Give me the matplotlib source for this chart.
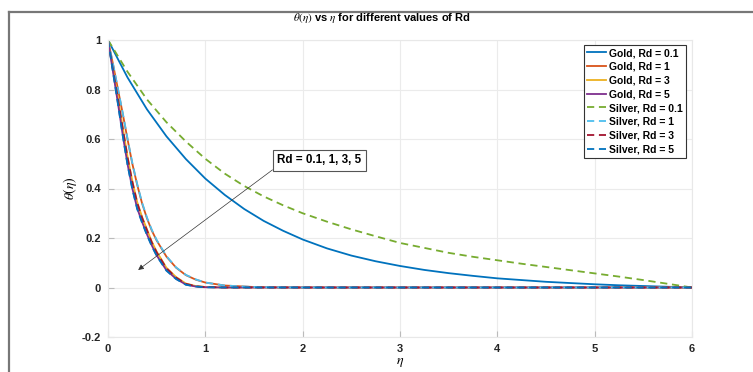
import matplotlib
matplotlib.use("Agg")
import matplotlib.pyplot as plt
from matplotlib.lines import Line2D

plt.rcParams['font.family'] = ['Liberation Sans', 'DejaVu Sans']
plt.rcParams['mathtext.fontset'] = 'stix'

# eta grids (read points) and theta values
eta_slow = [0, 0.2, 0.4, 0.6, 0.8, 1.0, 1.2, 1.4, 1.6, 1.8, 2.0, 2.25, 2.5, 2.75,
            3.0, 3.25, 3.5, 3.75, 4.0, 4.25, 4.5, 4.75, 5.0, 5.25, 5.5, 5.75, 6.0]
eta_fast = [0, 0.05, 0.1, 0.15, 0.2, 0.25, 0.3, 0.35, 0.4, 0.45, 0.5, 0.6, 0.7,
            0.8, 0.9, 1.0, 1.2, 1.5, 2.0, 6.0]

gold_01 = [1, 0.849, 0.72, 0.611, 0.519, 0.44, 0.374, 0.317, 0.269, 0.229, 0.194,
           0.158, 0.129, 0.106, 0.087, 0.071, 0.058, 0.047, 0.037, 0.030, 0.023,
           0.018, 0.013, 0.009, 0.006, 0.003, 0]
silver_01 = [1, 0.872, 0.76, 0.668, 0.59, 0.52, 0.46, 0.41, 0.368, 0.332, 0.30,
             0.266, 0.235, 0.207, 0.18, 0.16, 0.14, 0.124, 0.11, 0.096, 0.083,
             0.07, 0.057, 0.044, 0.03, 0.015, 0]

gold_1 = [1, 0.905, 0.805, 0.705, 0.6, 0.5, 0.415, 0.34, 0.28, 0.23, 0.19, 0.125,
          0.08, 0.05, 0.032, 0.02, 0.008, 0.002, 0, 0]
gold_3 = [1, 0.885, 0.77, 0.65, 0.53, 0.43, 0.345, 0.285, 0.235, 0.185, 0.145,
          0.08, 0.042, 0.016, 0.006, 0.002, 0, 0, 0, 0]
gold_5 = [1, 0.875, 0.75, 0.62, 0.5, 0.4, 0.32, 0.265, 0.215, 0.17, 0.13, 0.07,
          0.035, 0.012, 0.004, 0.001, 0, 0, 0, 0]
silver_1 = [1, 0.907, 0.808, 0.708, 0.603, 0.503, 0.418, 0.343, 0.283, 0.233, 0.192,
            0.127, 0.081, 0.051, 0.033, 0.02, 0.008, 0.002, 0, 0]
silver_3 = [1, 0.883, 0.767, 0.647, 0.527, 0.427, 0.342, 0.282, 0.232, 0.182, 0.142,
            0.078, 0.04, 0.015, 0.005, 0.002, 0, 0, 0, 0]
silver_5 = [1, 0.873, 0.747, 0.617, 0.497, 0.397, 0.317, 0.262, 0.212, 0.167, 0.128,
            0.068, 0.034, 0.011, 0.004, 0.001, 0, 0, 0, 0]

series = [gold_01, gold_1, gold_3, gold_5, silver_01, silver_1, silver_3, silver_5]
labels = ['Gold, Rd = 0.1', 'Gold, Rd = 1', 'Gold, Rd = 3', 'Gold, Rd = 5',
          'Silver, Rd = 0.1', 'Silver, Rd = 1', 'Silver, Rd = 3', 'Silver, Rd = 5']
colors = ['#0072BD', '#D95319', '#EDB120', '#7E2F8E',
          '#77AC30', '#4DBEEE', '#A2142F', '#0072BD']

fig = plt.figure(figsize=(7.53, 3.72), dpi=100)
ax = fig.add_axes([108/753, 1 - 337/372, 584/753, 297/372])

for i, (y, lab, c) in enumerate(zip(series, labels, colors)):
    x = eta_slow if len(y) == len(eta_slow) else eta_fast
    if i < 4:
        ax.plot(x, y, color=c, lw=1.3, label=lab)
    else:
        ax.plot(x, y, color=c, lw=1.3, ls='--', dashes=(4, 2.6), label=lab)

ax.set_xlim(0, 6)
ax.set_ylim(-0.2, 1)
ax.set_xticks([0, 1, 2, 3, 4, 5, 6])
ax.set_yticks([-0.2, 0, 0.2, 0.4, 0.6, 0.8, 1])
ax.set_yticklabels(['-0.2', '0', '0.2', '0.4', '0.6', '0.8', '1'])
ax.grid(True, color='#ebebeb', lw=0.8)
ax.set_axisbelow(True)
for s in ax.spines.values():
    s.set_color('#e8e8e8')
    s.set_linewidth(0.8)
ax.tick_params(direction='in', length=4, color='#bbbbbb', labelsize=8, pad=5)
for t in ax.get_xticklabels() + ax.get_yticklabels():
    t.set_fontweight('bold')
    t.set_color('#262626')

ax.set_xlabel(r'$\eta$', fontsize=10, labelpad=1)
ax.set_ylabel(r'$\theta(\eta)$', fontsize=10, labelpad=2)
fig.text(382/753, 1 - 18/372, r'$\theta(\eta)$ vs $\eta$ for different values of Rd',
         ha='center', va='center', fontsize=8, fontweight='bold')

leg = ax.legend(loc='upper right', bbox_to_anchor=(1 - 6/584, 1 - 5/297),
                prop={'weight': 'bold', 'size': 7.5},
                frameon=True, fancybox=False, framealpha=1, edgecolor='#333333',
                handlelength=1.8, handletextpad=0.3, labelspacing=0.36,
                borderpad=0.3, borderaxespad=0)
leg.get_frame().set_linewidth(0.8)

# text box with arrow pointing to the fast-decaying curves
ax.annotate('Rd = 0.1, 1, 3, 5', xy=(0.31, 0.071), xytext=(1.74, 0.49),
            ha='left', va='bottom', fontsize=8.4, fontweight='bold',
            bbox=dict(boxstyle='square,pad=0.38', fc='white', ec='#555555', lw=0.8),
            arrowprops=dict(arrowstyle='-|>', color='#333333', lw=0.5,
                            mutation_scale=8, shrinkA=0, shrinkB=0,
                            relpos=(0, 0)))

# outer gray frame
fig.add_artist(Line2D([9/753, 9/753], [0, 1 - 12/372], color='#777777', lw=1.6))
fig.add_artist(Line2D([9/753, 1], [1 - 12/372, 1 - 12/372], color='#777777', lw=1.6))

fig.savefig('out.png', dpi=100)
